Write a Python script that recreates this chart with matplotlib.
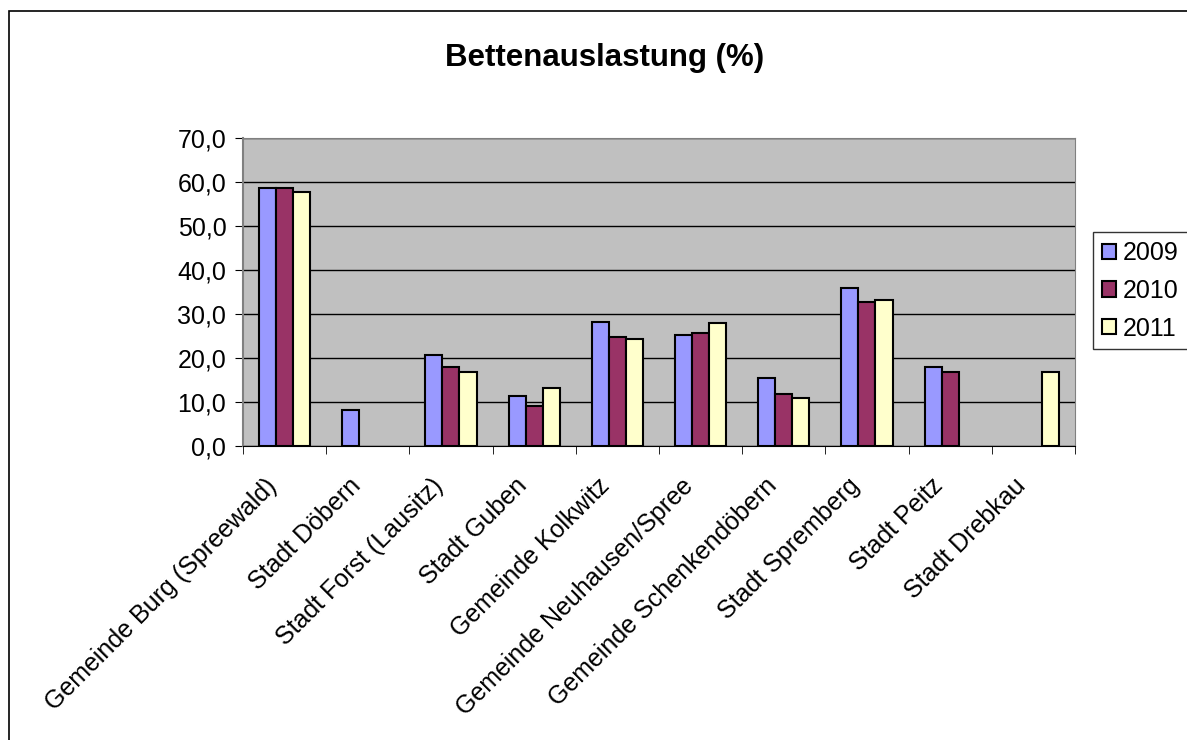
import matplotlib.pyplot as plt
import matplotlib.transforms as mtrans
import numpy as np
from matplotlib.patches import Rectangle

plt.rcParams['font.family'] = ['Liberation Sans', 'DejaVu Sans']

categories = ["Gemeinde Burg (Spreewald)", "Stadt Döbern", "Stadt Forst (Lausitz)",
              "Stadt Guben", "Gemeinde Kolkwitz", "Gemeinde Neuhausen/Spree",
              "Gemeinde Schenkendöbern", "Stadt Spremberg", "Stadt Peitz", "Stadt Drebkau"]
v2009 = [58.6, 8.3, 20.8, 11.3, 28.3, 25.2, 15.5, 36.0, 18.1, np.nan]
v2010 = [58.6, np.nan, 18.1, 9.2, 24.7, 25.7, 11.8, 32.8, 16.8, np.nan]
v2011 = [57.7, np.nan, 16.8, 13.2, 24.3, 27.9, 11.0, 33.3, np.nan, 16.8]
years = ["2009", "2010", "2011"]
colors = ["#9999FF", "#993366", "#FFFFCC"]

fig = plt.figure(figsize=(11.87, 7.4), dpi=100)
ax = fig.add_axes([0.2047, 0.397, 0.7009, 0.4165])
ax.set_facecolor("#C0C0C0")

x = np.arange(len(categories))
w = 0.205
for i, (vals, c, lab) in enumerate(zip([v2009, v2010, v2011], colors, years)):
    ax.bar(x + (i - 1) * w, vals, w, color=c, edgecolor="black", linewidth=1.5,
           label=lab, zorder=3)

yt = np.arange(0, 71, 10)
ax.set_ylim(0, 70)
ax.set_xlim(-0.5, len(categories) - 0.5)
ax.set_yticks(yt)
ax.set_yticklabels([("%.1f" % v).replace(".", ",") for v in yt], fontsize=18)
ax.yaxis.grid(True, color="black", linewidth=1, zorder=1)
ax.set_axisbelow(True)

ax.set_xticks(x)
ax.set_xticklabels(categories, rotation=45, ha="right", va="center",
                   rotation_mode="anchor", fontsize=18)
ax.tick_params(axis="x", length=0, pad=26)
# nudge the rotated labels a bit to the left
shift = mtrans.ScaledTranslation(-11 / 100, 0, fig.dpi_scale_trans)
for t in ax.get_xticklabels():
    t.set_transform(t.get_transform() + shift)
ax.set_xticks(np.arange(-0.5, len(categories)), minor=True)
ax.tick_params(axis="x", which="minor", length=6, direction="out", color="black")
ax.tick_params(axis="y", length=6, direction="out", color="black", pad=6)

for s in ["top", "right", "left"]:
    ax.spines[s].set_color("#808080")
ax.spines["left"].set_linewidth(1.5)
ax.spines["bottom"].set_color("black")

fig.text(0.509, 0.922, "Bettenauslastung (%)", ha="center", va="center",
         fontsize=22.5, fontweight="bold")

leg = fig.legend(loc="center left", bbox_to_anchor=(0.921, 0.607), fontsize=18,
                 frameon=True, fancybox=False, edgecolor="black", handlelength=0.55,
                 handleheight=0.55, handletextpad=0.3, labelspacing=0.55,
                 borderpad=0.35, borderaxespad=0)
leg.get_frame().set_linewidth(1)

# chart frame: only the left and top edges fall inside the picture
fig.patches.append(Rectangle((9 / 1187, -0.1), 1.2, 1.1 - 11 / 740,
                             transform=fig.transFigure, fill=False,
                             edgecolor="black", linewidth=1.2))

fig.savefig("out.png", dpi=100)
